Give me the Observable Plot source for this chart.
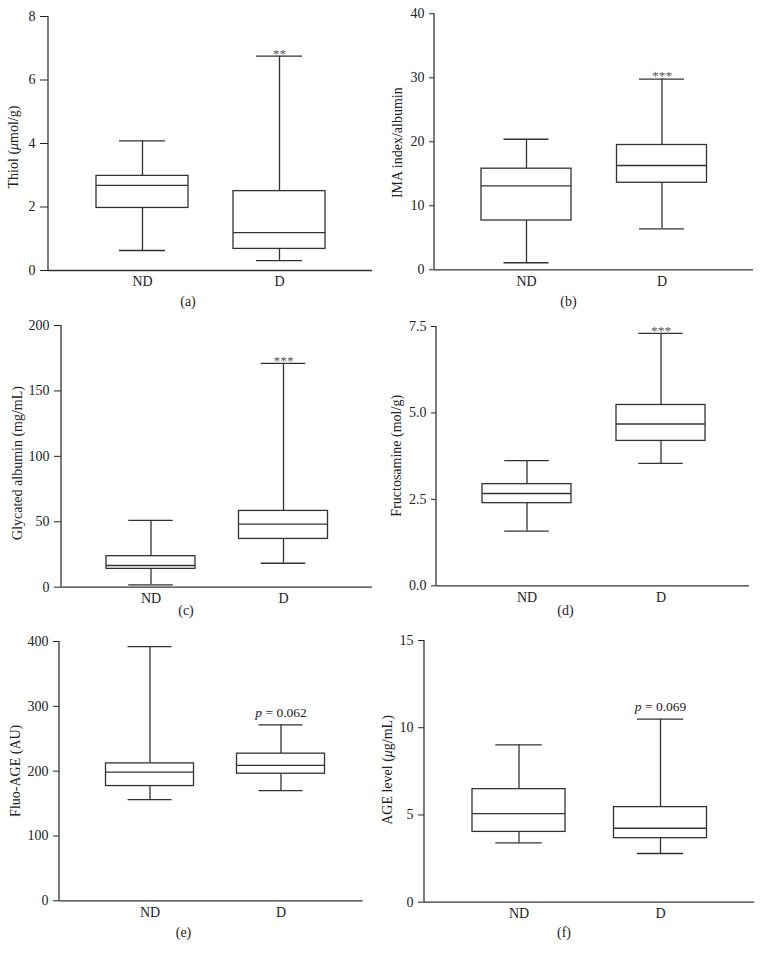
<!DOCTYPE html>
<html><head><meta charset="utf-8">
<script src="https://cdn.jsdelivr.net/npm/d3@7"></script>
<script src="https://cdn.jsdelivr.net/npm/@observablehq/plot@0.6"></script>
<style>
body{margin:0;background:#fff;}
#wrap{position:relative;width:762px;height:959px;font-family:"Liberation Serif","Times New Roman",serif;color:#222;}
.panel{position:absolute;}
.cap{position:absolute;font-size:14px;transform:translate(-50%,-50%);white-space:nowrap;color:#222;}
</style></head><body><div id="wrap"></div>
<script>
// ---------- data ----------
const groups = ["ND", "D"];

// (a) Thiol (µmol/g)
const thiolMin = [0.63, 0.31], thiolQ1 = [1.97, 0.68], thiolMed = [2.68, 1.19], thiolQ3 = [2.98, 2.50], thiolMax = [4.08, 6.75];
const thiolTicks = [0, 2, 4, 6, 8];
// (b) IMA index/albumin
const imaMin = [1.1, 6.4], imaQ1 = [7.7, 13.6], imaMed = [13.1, 16.3], imaQ3 = [15.8, 19.5], imaMax = [20.4, 29.8];
const imaTicks = [0, 10, 20, 30, 40];
// (c) Glycated albumin (mg/mL)
const gaMin = [1.8, 18.3], gaQ1 = [14.0, 36.9], gaMed = [16.6, 48.2], gaQ3 = [23.7, 58.3], gaMax = [51, 171];
const gaTicks = [0, 50, 100, 150, 200];
// (d) Fructosamine (mol/g)
const frMin = [1.58, 3.54], frQ1 = [2.39, 4.19], frMed = [2.67, 4.68], frQ3 = [2.94, 5.23], frMax = [3.62, 7.30];
const frTicks = [0, 2.5, 5, 7.5];
// (e) Fluo-AGE (AU)
const faMin = [156, 170], faQ1 = [177, 196], faMed = [198.5, 209], faQ3 = [212, 227], faMax = [392, 271.5];
const faTicks = [0, 100, 200, 300, 400];
// (f) AGE level (µg/mL)
const ageMin = [3.40, 2.79], ageQ1 = [4.03, 3.67], ageMed = [5.08, 4.24], ageQ3 = [6.48, 5.45], ageMax = [9.02, 10.49];
const ageTicks = [0, 5, 10, 15];

const yLabels = [
  [["Thiol ("], ["μ", true], ["mol/g)"]],
  [["IMA index/albumin"]],
  [["Glycated albumin (mg/mL)"]],
  [["Fructosamine (mol/g)"]],
  [["Fluo-AGE (AU)"]],
  [["AGE level ("], ["μ", true], ["g/mL)"]]
];
const captions = ["(a)", "(b)", "(c)", "(d)", "(e)", "(f)"];
const annotations = [
  {stars: "**"}, {stars: "***"}, {stars: "***"}, {stars: "***"},
  {p: "0.062"}, {p: "0.069"}
];

const panels = [
  {min: thiolMin, q1: thiolQ1, med: thiolMed, q3: thiolQ3, max: thiolMax, ticks: thiolTicks, fmt: null},
  {min: imaMin, q1: imaQ1, med: imaMed, q3: imaQ3, max: imaMax, ticks: imaTicks, fmt: null},
  {min: gaMin, q1: gaQ1, med: gaMed, q3: gaQ3, max: gaMax, ticks: gaTicks, fmt: null},
  {min: frMin, q1: frQ1, med: frMed, q3: frQ3, max: frMax, ticks: frTicks, fmt: d3.format(".1f")},
  {min: faMin, q1: faQ1, med: faMed, q3: faQ3, max: faMax, ticks: faTicks, fmt: null},
  {min: ageMin, q1: ageQ1, med: ageMed, q3: ageQ3, max: ageMax, ticks: ageTicks, fmt: null}
];

// ---------- layout (page pixel coordinates) ----------
const layout = [
  {L: 0,   T: 0,   H: 310, axisX: 48,  yTop: 16,   y0: 270,   xRight: 372,   ND: 142,   D: 279,   bw: 92, tick: 8, lx: 14,    ly: 147,   cx: 188,   cy: 302, pdy: -12},
  {L: 381, T: 0,   H: 310, axisX: 434, yTop: 13.3, y0: 269.3, xRight: 753,   ND: 526,   D: 661.5, bw: 90, tick: 5, lx: 397.7, ly: 142.7, cx: 568.5, cy: 302, pdy: -12},
  {L: 0,   T: 310, H: 310, axisX: 61,  yTop: 325,  y0: 586.7, xRight: 372,   ND: 150.5, D: 283,   bw: 89, tick: 7, lx: 17.5,  ly: 463,   cx: 186,   cy: 611, pdy: -12},
  {L: 381, T: 310, H: 310, axisX: 436, yTop: 326,  y0: 585.3, xRight: 749,   ND: 526.5, D: 660.5, bw: 89, tick: 5, lx: 396.8, ly: 455.8, cx: 565.5, cy: 611, pdy: -12},
  {L: 0,   T: 620, H: 339, axisX: 59,  yTop: 641,  y0: 900.3, xRight: 362.7, ND: 149.5, D: 280.5, bw: 88, tick: 6, lx: 15.8,  ly: 770.8, cx: 183.5, cy: 933, pdy: -12},
  {L: 381, T: 620, H: 339, axisX: 424, yTop: 640,  y0: 901.7, xRight: 754,   ND: 518.5, D: 660,   bw: 93, tick: 6, lx: 387.7, ly: 770,   cx: 564,   cy: 933, pdy: -13}
];

const LINE = "#333";
const SW = 1.3;
const FONT = "'Liberation Serif','Times New Roman',serif";
const svgNS = "http://www.w3.org/2000/svg";

function yAxisLine(lay) {
  return (index, scales, values, dims) => {
    const ml = dims ? dims.marginLeft : lay.axisX - lay.L;
    const mt = dims ? dims.marginTop : lay.yTop - lay.T;
    const bottom = dims ? dims.height - dims.marginBottom : lay.y0 - lay.T;
    const line = document.createElementNS(svgNS, "line");
    line.setAttribute("x1", ml); line.setAttribute("x2", ml);
    line.setAttribute("y1", mt); line.setAttribute("y2", bottom);
    line.setAttribute("stroke", LINE); line.setAttribute("stroke-width", SW);
    return line;
  };
}

function yLabelMark(segments, lay) {
  return () => {
    const t = document.createElementNS(svgNS, "text");
    t.setAttribute("transform", `translate(${lay.lx - lay.L},${lay.ly - lay.T}) rotate(-90)`);
    t.setAttribute("text-anchor", "middle");
    t.setAttribute("dy", "0.3em");
    t.setAttribute("font-size", "14");
    t.setAttribute("font-family", FONT);
    t.setAttribute("fill", "#222");
    for (const [s, it] of segments) {
      const ts = document.createElementNS(svgNS, "tspan");
      ts.textContent = s;
      if (it) ts.setAttribute("font-style", "italic");
      t.appendChild(ts);
    }
    return t;
  };
}

const wrap = document.getElementById("wrap");

panels.forEach((p, k) => {
  const lay = layout[k];
  const rows = groups.map((g, i) => ({group: g, min: p.min[i], q1: p.q1[i], med: p.med[i], q3: p.q3[i], max: p.max[i]}));
  const dRow = rows.filter(r => r.group === "D");
  const ann = annotations[k];
  const annMarks = ann.stars
    ? [Plot.text(dRow, {x: "group", y: "max", text: () => ann.stars, dy: -3, fontSize: 13.5, fill: "#555"})]
    : [
        Plot.text(dRow, {x: "group", y: "max", text: () => "p", fontStyle: "italic", textAnchor: "end", dx: -19, dy: lay.pdy, fontSize: 13.5, fill: "#222"}),
        Plot.text(dRow, {x: "group", y: "max", text: () => "= " + ann.p, textAnchor: "start", dx: -15.6, dy: lay.pdy, fontSize: 13.5, fill: "#222"})
      ];
  const W = 381;
  const chart = Plot.plot({
    width: W,
    height: lay.H,
    marginLeft: lay.axisX - lay.L,
    marginRight: lay.L + W - lay.xRight,
    marginTop: lay.yTop - lay.T,
    marginBottom: lay.T + lay.H - lay.y0,
    style: {fontFamily: FONT, fontSize: "14px", color: "#222", background: "white", overflow: "visible"},
    x: {
      type: "band", domain: groups,
      range: [lay.ND - lay.bw / 2 - lay.L, lay.D + lay.bw / 2 - lay.L],
      paddingInner: 1 - lay.bw / (lay.D - lay.ND), paddingOuter: 0, round: false,
      tickSize: 0, tickPadding: 6, label: null
    },
    y: {
      domain: [0, p.ticks[p.ticks.length - 1]],
      ticks: p.ticks, tickSize: lay.tick, tickPadding: 5,
      tickFormat: p.fmt || undefined, label: null
    },
    marks: [
      Plot.ruleY([0], {stroke: LINE, strokeWidth: SW}),
      yAxisLine(lay),
      Plot.ruleX(rows, {x: "group", y1: "q3", y2: "max", stroke: LINE, strokeWidth: SW}),
      Plot.ruleX(rows, {x: "group", y1: "min", y2: "q1", stroke: LINE, strokeWidth: SW}),
      Plot.tickY(rows, {x: "group", y: "max", insetLeft: lay.bw / 4, insetRight: lay.bw / 4, stroke: LINE, strokeWidth: SW}),
      Plot.tickY(rows, {x: "group", y: "min", insetLeft: lay.bw / 4, insetRight: lay.bw / 4, stroke: LINE, strokeWidth: SW}),
      Plot.barY(rows, {x: "group", y1: "q1", y2: "q3", fill: "white", stroke: LINE, strokeWidth: SW}),
      Plot.tickY(rows, {x: "group", y: "med", stroke: LINE, strokeWidth: SW}),
      ...annMarks,
      yLabelMark(yLabels[k], lay)
    ]
  });
  const holder = document.createElement("div");
  holder.className = "panel";
  holder.style.left = lay.L + "px";
  holder.style.top = lay.T + "px";
  holder.appendChild(chart);
  wrap.appendChild(holder);

  const cap = document.createElement("div");
  cap.className = "cap";
  cap.style.left = lay.cx + "px";
  cap.style.top = lay.cy + "px";
  cap.textContent = captions[k];
  wrap.appendChild(cap);
});
</script>
</body></html>
